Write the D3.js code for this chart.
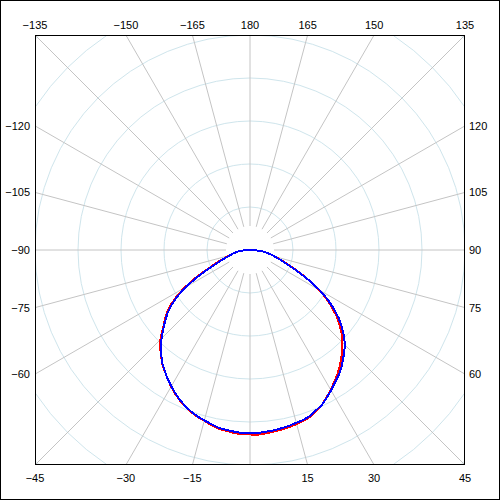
<!DOCTYPE html>
<html>
<head>
<meta charset="utf-8">
<script src="https://cdn.jsdelivr.net/npm/d3@7"></script>
<style>
html, body { margin: 0; padding: 0; background: #fff; }
svg { display: block; }
text { font-family: "Liberation Sans", Arial, sans-serif; font-size: 11px; fill: #000; }
</style>
</head>
<body>
<svg id="chart" width="500" height="500"></svg>
<script>
// angles in degrees (0 at bottom, positive toward the right)
const angles = [-90,-87.5,-85,-82.5,-80,-77.5,-75,-72.5,-70,-67.5,-65,-62.5,-60,-57.5,-55,-52.5,-50,-47.5,-45,-42.5,-40,-37.5,-35,-32.5,-30,-27.5,-25,-22.5,-20,-17.5,-15,-12.5,-10,-7.5,-5,-2.5,0,2.5,5,7.5,10,12.5,15,17.5,20,22.5,25,27.5,30,32.5,35,37.5,40,42.5,45,47.5,50,52.5,55,57.5,60,62.5,65,67.5,70,72.5,75,77.5,80,82.5,85,87.5,90];

const seriesRed = [0.00,0.11,0.22,0.30,0.37,0.44,0.51,0.61,0.76,0.93,1.17,1.47,1.77,2.04,2.27,2.45,2.60,2.76,2.95,3.09,3.22,3.35,3.45,3.56,3.67,3.77,3.86,3.94,4.01,4.07,4.11,4.17,4.22,4.24,4.27,4.29,4.29,4.30,4.28,4.26,4.24,4.22,4.19,4.16,4.12,4.04,3.97,3.86,3.76,3.64,3.54,3.42,3.30,3.17,3.04,2.90,2.72,2.54,2.33,2.11,1.86,1.58,1.32,1.09,0.89,0.74,0.62,0.52,0.43,0.33,0.24,0.12,0.00];

const seriesBlue = [0.00,0.10,0.21,0.28,0.35,0.42,0.49,0.58,0.72,0.88,1.12,1.42,1.72,2.00,2.23,2.42,2.58,2.74,2.91,3.06,3.21,3.34,3.45,3.56,3.66,3.76,3.85,3.93,4.00,4.06,4.10,4.15,4.20,4.22,4.24,4.26,4.26,4.26,4.24,4.23,4.21,4.19,4.16,4.14,4.10,4.03,3.97,3.87,3.77,3.67,3.58,3.48,3.36,3.24,3.12,2.97,2.79,2.60,2.38,2.14,1.88,1.58,1.30,1.05,0.86,0.72,0.60,0.51,0.42,0.33,0.24,0.12,0.00];

const ringValues = [1,2,3,4,5,6,7];
const spokeAngles = [-165,-150,-135,-120,-105,-90,-75,-60,-45,-30,-15,0,15,30,45,60,75,90,105,120,135,150,165,180];
const labeledAngles = [-165,-150,-135,-120,-105,-90,-75,-60,-45,-30,-15,15,30,45,60,75,90,105,120,135,150,165,180];

const svg = d3.select("#chart");
const W = 500, H = 500;
const cx = 250, cy = 250, half = 215;
const innerGap = 24;

const r = d3.scaleLinear().domain([0, 5]).range([0, half]);
const toRad = d => (180 - d) * Math.PI / 180; // d3 radial angle (0 = up, clockwise)

// outer frame
svg.append("rect").attr("x", 0.5).attr("y", 0.5).attr("width", W - 1).attr("height", H - 1)
  .attr("fill", "#fff").attr("stroke", "#000");

const defs = svg.append("defs");
defs.append("clipPath").attr("id", "plotClip").append("rect")
  .attr("x", cx - half).attr("y", cy - half).attr("width", 2 * half).attr("height", 2 * half);

const grid = svg.append("g").attr("clip-path", "url(#plotClip)")
  .append("g").attr("transform", `translate(${cx},${cy})`);

// rings
grid.selectAll("circle.ring").data(ringValues).join("circle")
  .attr("class", "ring").attr("r", d => r(d))
  .attr("fill", "none").attr("stroke", "#cfe5ec").attr("stroke-width", 1);

// spokes
grid.selectAll("line.spoke").data(spokeAngles).join("line")
  .attr("class", "spoke")
  .attr("x1", d => innerGap * Math.sin(toRad(d)))
  .attr("y1", d => -innerGap * Math.cos(toRad(d)))
  .attr("x2", d => 400 * Math.sin(toRad(d)))
  .attr("y2", d => -400 * Math.cos(toRad(d)))
  .attr("stroke", "#c4c4c4").attr("stroke-width", 1);

// series
const line = d3.lineRadial().angle(d => toRad(d[0])).radius(d => r(d[1])).curve(d3.curveLinear);
const plotG = svg.append("g").attr("clip-path", "url(#plotClip)")
  .append("g").attr("transform", `translate(${cx},${cy})`);
plotG.append("path").datum(angles.map((a, i) => [a, seriesRed[i]]))
  .attr("d", line).attr("fill", "none").attr("stroke", "#ff0000").attr("stroke-width", 2)
  .attr("stroke-linejoin", "round").attr("shape-rendering", "crispEdges");
plotG.append("path").datum(angles.map((a, i) => [a, seriesBlue[i]]))
  .attr("d", line).attr("fill", "none").attr("stroke", "#0000ff").attr("stroke-width", 2)
  .attr("stroke-linejoin", "round").attr("shape-rendering", "crispEdges");

// plot border
svg.append("rect").attr("x", cx - half + 0.5).attr("y", cy - half + 0.5)
  .attr("width", 2 * half - 1).attr("height", 2 * half - 1)
  .attr("fill", "none").attr("stroke", "#000");

// angle labels on the border
const fmt = d3.format("d");
labeledAngles.forEach(a => {
  const t = toRad(a);
  const sx = Math.sin(t), sy = -Math.cos(t);
  const k = half / Math.max(Math.abs(sx), Math.abs(sy));
  const px = sx * k, py = sy * k;
  const absA = Math.abs(a);
  let x, y, anchor;
  if (absA >= 135) { // top
    x = cx + px; y = cy - half - 6; anchor = "middle";
  } else if (absA <= 45) { // bottom
    x = cx + px; y = cy + half + 17; anchor = "middle";
  } else if (a < 0) { // left
    x = cx - half - 5; y = cy + py + 4; anchor = "end";
  } else { // right
    x = cx + half + 4; y = cy + py + 4; anchor = "start";
  }
  svg.append("text").attr("x", x).attr("y", y).attr("text-anchor", anchor).text(fmt(a));
});
</script>
</body>
</html>
